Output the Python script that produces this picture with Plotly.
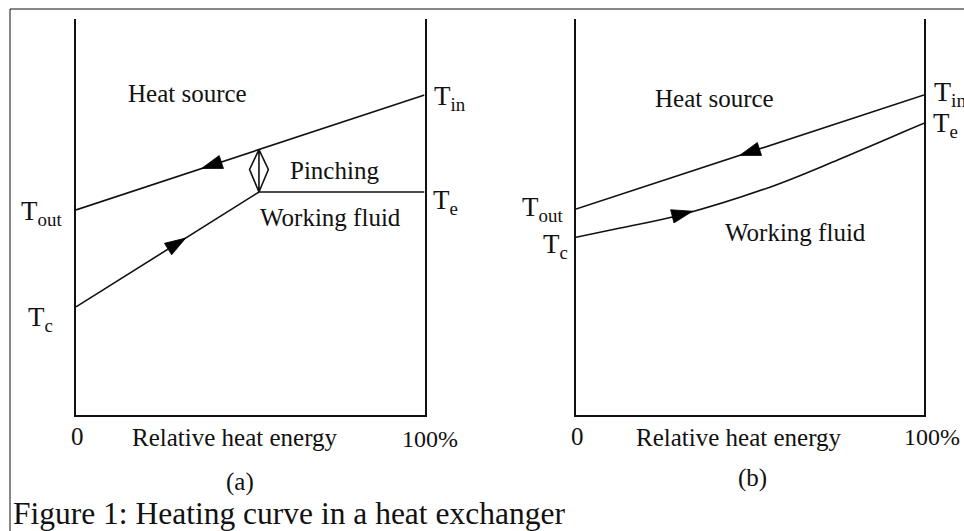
import numpy as np
import plotly.graph_objects as go

W, H = 964, 531

# ---------------- data (relative heat energy %, relative temperature) -------------
# panel (a): pinching case
a_hot_x = [0, 100]
a_hot_y = [51.8, 80.8]
a_wf_x = [0, 52.5, 100]
a_wf_y = [27.3, 56.3, 56.3]
a_pinch_x = [52.5]
a_pinch_y = [56.3, 67.0]
a_hot_arrow_x = [45.0, 36.0]     # tail, tip (flow from T_in to T_out)
a_wf_arrow_x = [22.0, 31.5]

# panel (b): matched curves
b_hot_x = [0, 100]
b_hot_y = [52.0, 80.8]
b_wf_x = [0, 12.7, 30.0, 55.9, 75.2, 94.2, 100]
b_wf_y = [44.9, 47.2, 50.5, 57.6, 64.4, 71.5, 73.7]
b_hot_arrow_x = [56.0, 47.0]
b_wf_arrow_x = [24.0, 33.5]

tick_vals = [0, 100]
tick_text = ["0", "100%"]

# ---------------- styles -------------------------------------------------------------
FONT = "Liberation Serif"
INK = "#111111"
LW = 1.6
PINCH_HALF_W = 2.7
PINCH_MID = 62.0
ARROW_SIZE = 22

fig = go.Figure()


def line(x, y, ax, shape="linear"):
    fig.add_trace(go.Scatter(x=x, y=y, mode="lines", xaxis=ax[0], yaxis=ax[1],
                             line=dict(color=INK, width=LW, shape=shape),
                             hoverinfo="skip", showlegend=False))


def arrow(xs, cx, cy, ax):
    ys = list(np.interp(xs, cx, cy))
    fig.add_trace(go.Scatter(x=xs, y=ys, mode="markers", xaxis=ax[0], yaxis=ax[1],
                             marker=dict(symbol="arrow", angleref="previous",
                                         size=[0, ARROW_SIZE], color="#000000",
                                         opacity=1,
                                         line=dict(width=0.8, color="#000000")),
                             hoverinfo="skip", showlegend=False))


A = ("x", "y")
B = ("x2", "y2")

line(a_hot_x, a_hot_y, A)
line(a_wf_x, a_wf_y, A)
arrow(a_hot_arrow_x, a_hot_x, a_hot_y, A)
arrow(a_wf_arrow_x, a_wf_x, a_wf_y, A)
# pinch double arrow
px = a_pinch_x[0]
lo, hi = a_pinch_y
line([px, px - PINCH_HALF_W, px, px + PINCH_HALF_W, px, px],
     [hi, PINCH_MID, lo, PINCH_MID, hi, lo], A)

line(b_hot_x, b_hot_y, B)
line(b_wf_x, b_wf_y, B, shape="spline")
arrow(b_hot_arrow_x, b_hot_x, b_hot_y, B)
arrow(b_wf_arrow_x, b_wf_x, b_wf_y, B)

# ---------------- axes ---------------------------------------------------------------
def px2x(p):
    return p / W


def px2y(p):
    return 1 - p / H


xdom_a = [px2x(76), px2x(424.5)]
xdom_b = [px2x(576), px2x(924)]
ydom = [px2y(415), px2y(19)]

xcommon = dict(range=[0, 100], showgrid=False, zeroline=False, showline=True,
               linecolor=INK, linewidth=2, ticks="", showticklabels=False,
               fixedrange=True)
ycommon = dict(range=[0, 100], domain=ydom, showgrid=False, zeroline=False,
               showline=True, mirror=True, linecolor=INK, linewidth=2, ticks="",
               showticklabels=False, fixedrange=True)

fig.update_layout(
    xaxis=dict(domain=xdom_a, anchor="y", **xcommon),
    yaxis=dict(anchor="x", **ycommon),
    xaxis2=dict(domain=xdom_b, anchor="y2", **xcommon),
    yaxis2=dict(anchor="x2", **ycommon),
)

# ---------------- text ---------------------------------------------------------------
ann = []


def txt(s, x, y, size=25, xanchor="center", yanchor="middle"):
    ann.append(dict(text=s, x=px2x(x), y=px2y(y), xref="paper", yref="paper",
                    showarrow=False, xanchor=xanchor, yanchor=yanchor,
                    font=dict(family=FONT, size=size, color=INK)))


# panel a
txt("Heat source", 187, 93)
txt("T<sub>in</sub>", 432, 98, 27, "left")
txt("Pinching", 334, 170)
txt("T<sub>e</sub>", 431, 202, 27, "left")
txt("Working fluid", 330, 217)
txt("T<sub>out</sub>", 19, 213, 27, "left")
txt("T<sub>c</sub>", 26, 319, 27, "left")
txt(tick_text[0], 77, 436)
txt("Relative heat energy", 235, 437)
txt(tick_text[1], 430, 439, 24)
txt("(a)", 240, 482)

# panel b
txt("Heat source", 714, 98)
txt("T<sub>in</sub>", 932, 94, 28, "left")
txt("T<sub>e</sub>", 931, 125, 27, "left")
txt("T<sub>out</sub>", 520, 209, 27, "left")
txt("T<sub>c</sub>", 541, 246, 27, "left")
txt("Working fluid", 795, 232)
txt(tick_text[0], 577, 436)
txt("Relative heat energy", 739, 437)
txt(tick_text[1], 932, 437, 24)
txt("(b)", 752, 478)

# caption
txt("Figure 1: Heating curve in a heat exchanger", 11, 513, 31.5, "left")

# outer frame (left and top edges)
shapes = [
    dict(type="line", xref="paper", yref="paper", x0=px2x(10), x1=px2x(10),
         y0=px2y(9), y1=0, line=dict(color=INK, width=1)),
    dict(type="line", xref="paper", yref="paper", x0=px2x(10), x1=1,
         y0=px2y(9), y1=px2y(9), line=dict(color=INK, width=1)),
]

fig.update_layout(
    width=W, height=H, margin=dict(l=0, r=0, t=0, b=0),
    paper_bgcolor="white", plot_bgcolor="white",
    annotations=ann, shapes=shapes, showlegend=False,
    font=dict(family=FONT, color=INK),
)

fig.write_html("out.html", config={"displayModeBar": False})
